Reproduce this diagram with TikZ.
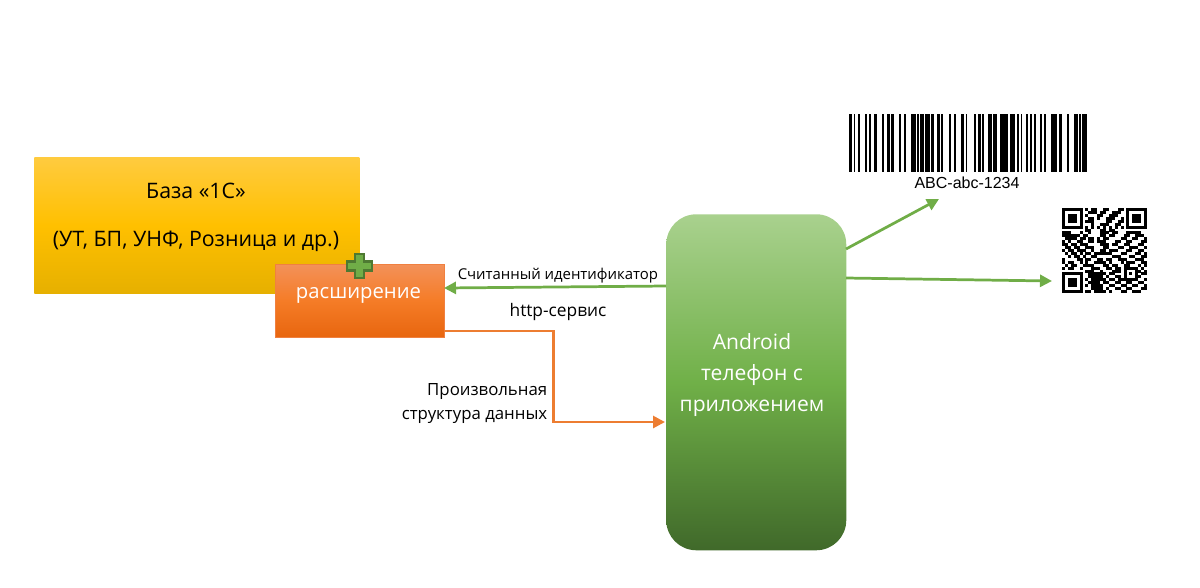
\documentclass[tikz,border=0pt]{standalone}
\usepackage{fontspec}
\setmainfont{Open Sans}
\newfontfamily\arialf{Liberation Sans}
\usetikzlibrary{arrows.meta}
\definecolor{gr}{HTML}{70AD47}
\definecolor{orl}{HTML}{ED7D31}
\definecolor{ya}{HTML}{E6B000}\definecolor{yb}{HTML}{FFC000}\definecolor{yc}{HTML}{FFCB3F}
\definecolor{oa}{HTML}{E8660F}\definecolor{ob}{HTML}{F57C27}\definecolor{oc}{HTML}{F39159}
\definecolor{ga}{HTML}{40692A}\definecolor{gb}{HTML}{70B048}\definecolor{gc}{HTML}{A9D18E}
\definecolor{oedge}{HTML}{F08040}
\pgfdeclareverticalshading{yshade}{100bp}{color(0bp)=(ya);color(25bp)=(ya);color(50bp)=(yb);color(75bp)=(yc);color(100bp)=(yc)}
\pgfdeclareverticalshading{oshade}{100bp}{color(0bp)=(oa);color(25bp)=(oa);color(50bp)=(ob);color(75bp)=(oc);color(100bp)=(oc)}
\pgfdeclareverticalshading{gshade}{100bp}{color(0bp)=(ga);color(25bp)=(ga);color(50bp)=(gb);color(75bp)=(gc);color(100bp)=(gc)}
\tikzset{
 x=0.75pt,y=-0.75pt,
 lbl/.style={inner sep=0pt,font=\fontsize{16pt}{20pt}\selectfont,text=black},
 small/.style={inner sep=0pt,font=\fontsize{12.6pt}{18pt}\selectfont,text=black},
 whitet/.style={inner sep=0pt,text=white},
 greenarrow/.style={draw=gr,line width=2.05pt,-{Triangle[length=9pt,width=9pt]}},
 orangearrow/.style={draw=orl,line width=2.05pt,-{Triangle[length=9pt,width=9pt]}},
 bar/.style={fill=black,draw=none},
}
\begin{document}
\begin{tikzpicture}
\useasboundingbox (0,0) rectangle (1200,587);
% base box
\node[minimum width=243.75pt,minimum height=102pt,inner sep=0pt,shading=yshade,anchor=north west] (base) at (34,157) {};
\node[lbl] (t1) at (196,191) {База «1С»};
\node[lbl] (t2) at (196,241) {(УТ, БП, УНФ, Розница и др.)};
% extension box
\node[minimum width=126.5pt,minimum height=54.5pt,inner sep=0pt,shading=oshade,draw=oedge,line width=0.4pt,anchor=north west] (ext) at (275,264) {};
\node[whitet,font=\fontsize{15.2pt}{18pt}\selectfont] (extt) at (358.5,295) {расширение};
% plus
\fill[gr,draw=gr!70!black,line width=1.9pt] (355,254) -- (364,254) -- (364,261.5) -- (372,261.5) -- (372,270.5) -- (364,270.5) -- (364,278) -- (355,278) -- (355,270.5) -- (347,270.5) -- (347,261.5) -- (355,261.5) -- cycle;
% phone
\node[minimum width=135pt,minimum height=252pt,inner sep=0pt,rounded corners=22.5pt,shading=gshade,anchor=north west] (phone) at (666,214) {};
\node[whitet,font=\fontsize{15.8pt}{23.5pt}\selectfont,align=center] (pt) at (752,375) {Android\\телефон с\\приложением};
% barcode
\node[inner sep=0pt,minimum width=178.5pt,minimum height=43.5pt,anchor=north west] (bc) at (849,114) {};
\foreach \a/\w in {0/3,4.7/1.5,9/1.5,16/1.5,20/2,25/3,33/1.5,38/3,42/3,50/1.5,55/1.5,62/4.5,68/2,71/4,76/4.5,82/3,88/3,92/1.5,100/1.5,105/1.5,112/3,116.7/1,125/2,129.3/2.3,133.3/2,139.3/4,144.3/4,151/8,161/5,168/2,171.7/1.7,176.7/2,181/1.7,185.3/1.7,191/1.7,195.3/1.7,202/6.3,210.3/2.3,218.3/2,225.3/3.3,230.3/1.7,233.3/4.5}
  {\fill[bar] (849+\a,114) rectangle (849+\a+\w,172);}
\node[inner sep=0pt,font=\arialf\fontsize{12pt}{14pt}\selectfont] (bct) at (967,183) {ABC-abc-1234};
% QR
\node[inner sep=0pt,minimum width=64pt,minimum height=64.5pt,anchor=north west] (qr) at (1062,208) {};
\def\qm{2.93}
\newcommand{\qrc}[2]{\fill[black] ({1062+#1*\qm},{208+#2*\qm}) rectangle ({1062+(#1+1)*\qm+0.1},{208+(#2+1)*\qm+0.1});}
\newcommand{\qrfinder}[2]{%
 \fill[black] ({1062+#1*\qm},{208+#2*\qm}) rectangle ++(7*\qm,7*\qm);
 \fill[white] ({1062+(#1+1)*\qm},{208+(#2+1)*\qm}) rectangle ++(5*\qm,5*\qm);
 \fill[black] ({1062+(#1+2)*\qm},{208+(#2+2)*\qm}) rectangle ++(3*\qm,3*\qm);}
\qrfinder{0}{0}\qrfinder{22}{0}\qrfinder{0}{22}
\foreach \r/\cols in {
0/{8,10,11,14,15,19,20},
1/{9,10,11,13,14,17,18,19},
2/{8,12,13,16,17,18},
3/{9,10,12,15,16,17,20},
4/{8,9,10,15,16,19,20},
5/{10,13,14,15,18,19},
6/{8,10,12,14,16,18,20},
7/{8,9,13,14,16,17},
8/{0,1,2,6,9,13,14,15,17,18,22,23,24,25,26},
9/{0,1,2,3,4,5,7,8,13,14,16,17,21,22,25,26,27},
10/{1,2,3,4,6,7,9,10,12,14,15,20,21,24,25,28},
11/{0,2,5,6,9,10,12,13,14,18,19,22,23,27,28},
12/{0,1,3,4,6,7,8,13,14,15,17,18,21,22,26,27},
13/{1,2,4,5,8,9,10,14,15,19,20,23,24,25,28},
14/{0,2,3,5,6,7,10,13,14,16,17,18,22,23,26,27},
15/{1,3,4,6,8,9,11,12,13,14,15,16,20,21,25,26,28},
16/{2,4,5,7,10,11,17,18,19,23,24,27,28},
17/{0,5,6,8,9,12,13,15,16,19,20,21,25,26,27},
18/{0,2,3,6,8,11,12,13,14,16,20,22,23,24,27,28},
19/{1,3,4,7,8,9,10,14,15,17,18,21,22,26,28},
20/{0,2,3,6,10,11,12,15,16,18,19,21,22,23,24,25,27},
21/{8,9,10,13,17,18,19,21,25,26,28},
22/{9,10,11,12,13,14,16,17,21,23,25,27,28},
23/{9,10,11,12,13,15,18,19,21,25,26},
24/{8,10,11,12,13,14,16,17,19,20,21,22,23,24,25,28},
25/{9,10,11,12,14,15,18,19,22,23,26,27},
26/{8,10,11,12,13,16,17,20,21,24,25,28},
27/{10,11,12,13,15,18,19,22,23,27,28},
28/{8,9,11,12,13,14,16,20,21,24,25,26}}
{\foreach \c in \cols {\qrc{\c}{\r}}}
% labels
\node[small,font=\fontsize{11.2pt}{14pt}\selectfont] (l1) at (558,276) {Считанный идентификатор};
\node[small,font=\fontsize{13pt}{16pt}\selectfont] (l2) at (558,312) {http-сервис};
\node[small,align=right,anchor=east] (l3) at (547.5,404) {Произвольная\\структура данных};
% connectors
\coordinate (pa) at (666,286);
\coordinate (ea) at (444,288);
\draw[greenarrow] (pa) -- (ea);
\coordinate (eb) at (444,331);
\coordinate (bend) at (553.5,331);
\coordinate (pb) at (665,422);
\draw[orangearrow] (eb) -- (bend) |- (pb);
\coordinate (pc) at (846,249);
\coordinate (bt) at (939,199);
\draw[greenarrow] (pc) -- (bt);
\coordinate (pd) at (846,278);
\coordinate (qt) at (1052,281);
\draw[greenarrow] (pd) -- (qt);
\end{tikzpicture}
\end{document}
